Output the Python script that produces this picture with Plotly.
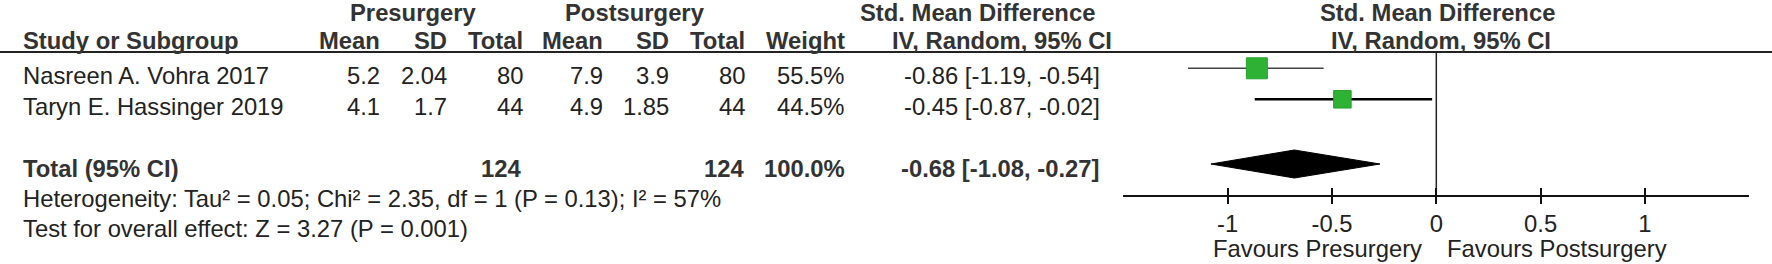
import plotly.graph_objects as go

# ---------------- data ----------------
studies = ["Nasreen A. Vohra 2017", "Taryn E. Hassinger 2019"]
pre_mean = ["5.2", "4.1"]
pre_sd = ["2.04", "1.7"]
pre_n = ["80", "44"]
post_mean = ["7.9", "4.9"]
post_sd = ["3.9", "1.85"]
post_n = ["80", "44"]
weights = ["55.5%", "44.5%"]
smd = [-0.86, -0.45]
ci_lo = [-1.19, -0.87]
ci_hi = [-0.54, -0.02]
ci_text = ["-0.86 [-1.19, -0.54]", "-0.45 [-0.87, -0.02]"]

total_pre_n = "124"
total_post_n = "124"
total_weight = "100.0%"
total_smd = -0.68
total_lo = -1.08
total_hi = -0.27
total_text = "-0.68 [-1.08, -0.27]"

het_text = "Heterogeneity: Tau² = 0.05; Chi² = 2.35, df = 1 (P = 0.13); I² = 57%"
overall_text = "Test for overall effect: Z = 3.27 (P = 0.001)"

tick_vals = [-1, -0.5, 0, 0.5, 1]
tick_text = ["-1", "-0.5", "0", "0.5", "1"]
x_range = [-1.5, 1.5]
favours_left = "Favours Presurgery"
favours_right = "Favours Postsurgery"

# ---------------- layout helpers ----------------
W, H = 1772, 264
FONT = "Liberation Sans, Arial, Helvetica, sans-serif"
FS = 23.8
TXT = "#222222"
HDR = "#333333"

def px(x):
    return x / W

row_text_y0, row_step = 75.8, 31.0
mark_offset = -7.5
total_text_y = 168.5
diamond_y = 164
diamond_half = 14
header_line_y = 52
axis_y = 196

fig = go.Figure()

# CI lines and squares
row_line_colors = ["#444444", "#000000"]
row_line_widths = [1.5, 2.5]
marker_sizes = [21, 17.5]
for i in range(len(studies)):
    y = row_text_y0 + i * row_step + mark_offset
    fig.add_trace(go.Scatter(
        x=[ci_lo[i], ci_hi[i]], y=[y, y], mode="lines",
        line=dict(color=row_line_colors[i], width=row_line_widths[i]),
        hoverinfo="skip", showlegend=False))
    fig.add_trace(go.Scatter(
        x=[smd[i]], y=[y], mode="markers",
        marker=dict(symbol="square", size=marker_sizes[i], color="#2DB234",
                    line=dict(color="#27A12E", width=1)),
        showlegend=False))

# diamond
fig.add_trace(go.Scatter(
    x=[total_lo, total_smd, total_hi, total_smd, total_lo],
    y=[diamond_y, diamond_y - diamond_half, diamond_y, diamond_y + diamond_half, diamond_y],
    mode="lines", fill="toself", fillcolor="#000000",
    line=dict(color="#000000", width=1), showlegend=False, hoverinfo="skip"))

# zero line
fig.add_trace(go.Scatter(
    x=[0, 0], y=[header_line_y, axis_y + 7], mode="lines",
    line=dict(color="#222222", width=1.5), showlegend=False, hoverinfo="skip"))

# header line
fig.add_shape(type="line", xref="paper", yref="y", x0=0, x1=1, y0=header_line_y, y1=header_line_y,
              line=dict(color="#222222", width=2))

ann = []

def add(text, x, y, anchor="left", bold=False, color=None):
    t = f"<b>{text}</b>" if bold else text
    ann.append(dict(text=t, x=px(x), y=y, xref="paper", yref="y",
                    xanchor=anchor, yanchor="middle", showarrow=False,
                    font=dict(family=FONT, size=FS, color=color or (HDR if bold else TXT))))

# group headers
gy = 12.5
add("Presurgery", 412.5, gy, "center", True)
add("Postsurgery", 635.3, gy, "center", True)
add("Std. Mean Difference", 857.7, gy, "left", True)
add("Std. Mean Difference", 1437, gy, "center", True)

# column headers
hy = 40.2
add("Study or Subgroup", 20.7, hy, "left", True)
add("Mean", 381.7, hy, "right", True)
add("SD", 449, hy, "right", True)
add("Total", 524.5, hy, "right", True)
add("Mean", 604.5, hy, "right", True)
add("SD", 671, hy, "right", True)
add("Total", 746.5, hy, "right", True)
add("Weight", 846.5, hy, "right", True)
add("IV, Random, 95% CI", 890, hy, "left", True)
add("IV, Random, 95% CI", 1441, hy, "center", True)

# study rows
for i in range(len(studies)):
    y = row_text_y0 + i * row_step
    add(studies[i], 20.7, y, "left")
    add(pre_mean[i], 381.7, y, "right")
    add(pre_sd[i], 449, y, "right")
    add(pre_n[i], 524.5, y, "right")
    add(post_mean[i], 604.5, y, "right")
    add(post_sd[i], 671, y, "right")
    add(post_n[i], 746.5, y, "right")
    add(weights[i], 846, y, "right")
    add(ci_text[i], 1101.5, y, "right")

# total row
add("Total (95% CI)", 20.7, total_text_y, "left", True)
add(total_pre_n, 523, total_text_y, "right", True)
add(total_post_n, 745.5, total_text_y, "right", True)
add(total_weight, 847, total_text_y, "right", True)
add(total_text, 1100.5, total_text_y, "right", True)

add(het_text, 20.7, 198.5, "left")
add(overall_text, 20.7, 228.5, "left")

add(favours_left, 1317.7, 248.5, "center")
add(favours_right, 1557, 248.5, "center")

x0_px, x1_px = 1123.3, 1749.3
fig.update_layout(
    width=W, height=H, margin=dict(l=0, r=0, t=0, b=0),
    paper_bgcolor="white", plot_bgcolor="white",
    annotations=ann, showlegend=False,
    xaxis=dict(domain=[px(x0_px), px(x1_px)], range=x_range, anchor="free", position=1 - axis_y / H,
               showgrid=False, zeroline=False, showline=True, linecolor="#111111", linewidth=2,
               ticks="outside", ticklen=7, tickwidth=2, tickcolor="#111111",
               tickvals=tick_vals, ticktext=tick_text, ticklabelstandoff=-1,
               tickfont=dict(family=FONT, size=FS, color=TXT)),
    xaxis2=dict(domain=[px(x0_px), px(x1_px)], range=x_range, anchor="free", position=1 - axis_y / H,
                overlaying="x", showgrid=False, zeroline=False, showline=False,
                ticks="inside", ticklen=8, tickwidth=2, tickcolor="#111111",
                tickvals=tick_vals, showticklabels=False),
    yaxis=dict(domain=[0, 1], range=[H, 0], visible=False, showgrid=False, zeroline=False),
)
# dummy trace to activate xaxis2
fig.add_trace(go.Scatter(x=[None], y=[None], xaxis="x2", showlegend=False))

fig.write_html("out.html", config={"displayModeBar": False},
               post_script="document.body.style.margin='0';")
